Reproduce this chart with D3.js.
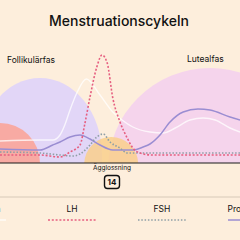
<!DOCTYPE html>
<html>
<head>
<meta charset="utf-8">
<script src="https://cdn.jsdelivr.net/npm/d3@7"></script>
<style>
  html, body { margin: 0; padding: 0; background: #fdeedc; }
  svg { display: block; font-family: Inter, "Noto Sans", sans-serif; }
</style>
</head>
<body>
<div id="chart"></div>
<script>
const title = "Menstruationscykeln";
const phaseLabels = ["Follikulärfas", "Lutealfas"];
const ovulationLabel = "Ägglossning";
const ovulationDay = 14;

const seriesNames = ["Östrogen", "LH", "FSH", "Progesteron"];

const estrogenDays = [0, 5, 6.6, 7.5, 8.1, 8.75, 9.6, 10.8, 12.5, 14.1, 15.25, 16.6, 18.75, 20.4, 21.9, 23.75, 25.4, 26.9, 28.75, 30];
const estrogenVals = [22, 23, 23, 28, 38, 53, 70, 84, 68, 51, 43, 36, 31, 30, 35, 43, 45, 43, 35, 31];

const lhDays = [0, 5, 7.5, 8.75, 10, 10.6, 11.25, 12.1, 12.75, 13.4, 14.1, 15, 15.9, 16.6, 17.5, 19, 24, 30];
const lhVals = [8, 8, 6, 11, 18, 39, 66, 96, 108, 100, 65, 41, 25, 15, 10, 8, 8, 8];

const fshDays = [0, 5, 7.5, 9.1, 10, 11.25, 12.1, 12.9, 13.75, 15, 15.9, 17.5, 24, 30];
const fshVals = [11, 10, 8, 7, 9, 18, 26, 29, 21, 15, 10, 10, 10, 10];

const progDays = [0, 5, 6.6, 7.5, 8.75, 10, 11.25, 12.5, 14.1, 16.6, 17.9, 18.75, 20, 21.25, 22.9, 24.75, 26.25, 28.75, 30];
const progVals = [14, 13, 18, 21, 26, 28, 24, 18, 13, 13, 16, 19, 28, 41, 51, 54, 53, 46, 43];

const width = 240;
const height = 240;
const baseY = 163;

const x = d3.scaleLinear().domain([0, 30]).range([0, 240]);
const y = d3.scaleLinear().domain([0, 110]).range([baseY, baseY - 110]);

const svg = d3.select("#chart").append("svg")
  .attr("width", width)
  .attr("height", height);

svg.append("rect").attr("width", width).attr("height", height).attr("fill", "#fdeedc");

svg.append("defs").append("clipPath").attr("id", "plot")
  .append("rect").attr("x", 0).attr("y", 0).attr("width", width).attr("height", baseY);

const blobs = svg.append("g").attr("clip-path", "url(#plot)");

// phase backgrounds
blobs.append("ellipse")
  .attr("cx", x(5)).attr("cy", y(8))
  .attr("rx", 62).attr("ry", 77)
  .attr("fill", "#e2d6f7");

blobs.append("circle")
  .attr("cx", x(26.25)).attr("cy", y(-7))
  .attr("r", 102)
  .attr("fill", "#f5d4ec");

blobs.append("circle")
  .attr("cx", x(0)).attr("cy", y(0))
  .attr("r", 40)
  .attr("fill", "#f8aaa3");

blobs.append("circle")
  .attr("cx", x(13.9)).attr("cy", y(-1))
  .attr("r", 27)
  .attr("fill", "#f9cf8c")
  .attr("opacity", 0.85);

const line = d3.line()
  .x((d) => x(d[0]))
  .y((d) => y(d[1]))
  .curve(d3.curveMonotoneX);

const zip = (a, b) => a.map((d, i) => [d, b[i]]);

const styles = [
  { data: zip(estrogenDays, estrogenVals), color: "#ffffff", dash: null, w: 1.4, op: 0.75 },
  { data: zip(progDays, progVals), color: "#9a8dd2", dash: null, w: 1.5, op: 1 },
  { data: zip(fshDays, fshVals), color: "#8e9fa6", dash: "1.5,1.8", w: 1.6, op: 1 },
  { data: zip(lhDays, lhVals), color: "#e65f80", dash: "2,1.8", w: 1.6, op: 1 },
];

const curves = svg.append("g").attr("clip-path", "url(#plot)");
styles.forEach((s) => {
  curves.append("path")
    .attr("d", line(s.data))
    .attr("fill", "none")
    .attr("stroke", s.color)
    .attr("stroke-opacity", s.op)
    .attr("stroke-width", s.w)
    .attr("stroke-dasharray", s.dash);
});

// baseline
svg.append("line")
  .attr("x1", 0).attr("x2", width)
  .attr("y1", baseY).attr("y2", baseY)
  .attr("stroke", "#1a1a1a").attr("stroke-width", 1.2);

svg.append("text")
  .attr("x", 119).attr("y", 26)
  .attr("text-anchor", "middle")
  .attr("font-size", 14).attr("font-weight", 500)
  .attr("fill", "#111")
  .text(title);

svg.append("text")
  .attr("x", 7).attr("y", 63)
  .attr("font-size", 8.5).attr("fill", "#111")
  .text(phaseLabels[0]);

svg.append("text")
  .attr("x", 187).attr("y", 62)
  .attr("font-size", 8.5).attr("fill", "#111")
  .text(phaseLabels[1]);

svg.append("text")
  .attr("x", x(ovulationDay)).attr("y", 170)
  .attr("text-anchor", "middle")
  .attr("font-size", 6.5).attr("fill", "#111")
  .text(ovulationLabel);

svg.append("rect")
  .attr("x", x(ovulationDay) - 7.5).attr("y", 175.5)
  .attr("width", 15).attr("height", 13)
  .attr("rx", 3)
  .attr("fill", "none")
  .attr("stroke", "#111").attr("stroke-width", 1.4);

svg.append("text")
  .attr("x", x(ovulationDay)).attr("y", 185)
  .attr("text-anchor", "middle")
  .attr("font-size", 8).attr("font-weight", 700).attr("fill", "#111")
  .text(ovulationDay);

// divider
svg.append("line")
  .attr("x1", 0).attr("x2", width)
  .attr("y1", 197).attr("y2", 197)
  .attr("stroke", "#cdbfae").attr("stroke-width", 0.8);

// legend (cropped at both edges as in the source)
const legendOrder = [0, 3, 2, 1];
const legend = svg.append("g");
seriesNames.forEach((name, i) => {
  const cx = -18 + i * 90;
  const s = styles[legendOrder[i]];
  legend.append("text")
    .attr("x", cx).attr("y", 212)
    .attr("text-anchor", "middle")
    .attr("font-size", 8.5).attr("fill", "#111")
    .text(name);
  legend.append("line")
    .attr("x1", cx - 24).attr("x2", cx + 24)
    .attr("y1", 220).attr("y2", 220)
    .attr("stroke", s.color)
    .attr("stroke-opacity", s.op)
    .attr("stroke-width", s.w)
    .attr("stroke-dasharray", s.dash);
});
</script>
</body>
</html>
